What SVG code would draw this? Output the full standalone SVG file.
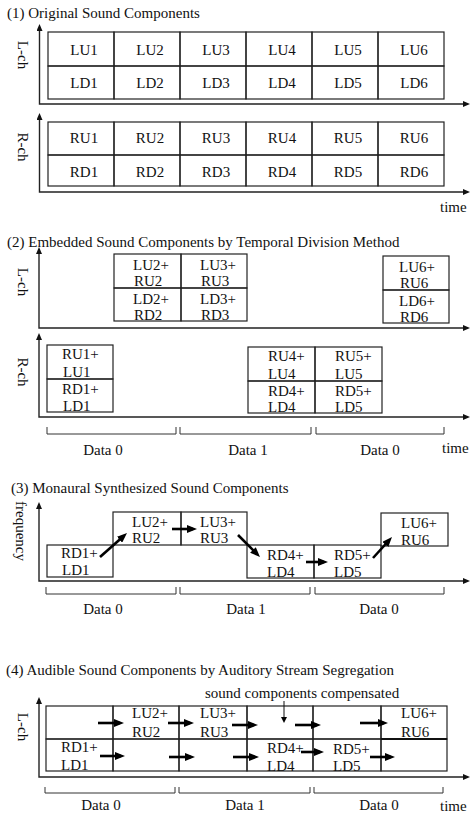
<svg xmlns="http://www.w3.org/2000/svg" width="474" height="813" viewBox="0 0 474 813">
<style>
.t{font-family:"Liberation Serif","Times New Roman",serif;font-size:15px;fill:#111}
.c{text-anchor:middle}
.box{fill:none;stroke:#222;stroke-width:1.2}
.ax{fill:none;stroke:#222;stroke-width:1.4}
.ar{fill:none;stroke:#000;stroke-width:2.6}
.thin{fill:none;stroke:#111;stroke-width:1}
.br{fill:none;stroke:#333;stroke-width:1}
</style>
<defs>
<marker id="axh" markerUnits="userSpaceOnUse" markerWidth="7" markerHeight="6" refX="4" refY="3" orient="auto-start-reverse"><path d="M0,0 L7,3 L0,6 z" fill="#111"/></marker>
<marker id="ah" markerUnits="userSpaceOnUse" markerWidth="10" markerHeight="8" refX="6" refY="4" orient="auto"><path d="M0,0 L10,4 L0,8 z" fill="#000"/></marker>
<marker id="sh" markerUnits="userSpaceOnUse" markerWidth="6" markerHeight="6" refX="3" refY="3" orient="auto"><path d="M0,0 L6,3 L0,6 z" fill="#000"/></marker>
</defs>

<!-- Section 1 -->
<text class="t" x="7" y="18">(1) Original Sound Components</text>
<text class="t c" transform="translate(18,55) rotate(90)">L-ch</text>
<text class="t c" transform="translate(18,147) rotate(90)">R-ch</text>
<text class="t" x="440" y="212">time</text>

<g id="s1-LU1"><rect class="box" x="48" y="32" width="66" height="34"/><text class="t c" x="84" y="55">LU1</text></g>
<g id="s1-LU2"><rect class="box" x="114" y="32" width="66" height="34"/><text class="t c" x="150" y="55">LU2</text></g>
<g id="s1-LU3"><rect class="box" x="180" y="32" width="66" height="34"/><text class="t c" x="216" y="55">LU3</text></g>
<g id="s1-LU4"><rect class="box" x="246" y="32" width="66" height="34"/><text class="t c" x="282" y="55">LU4</text></g>
<g id="s1-LU5"><rect class="box" x="312" y="32" width="66" height="34"/><text class="t c" x="348" y="55">LU5</text></g>
<g id="s1-LU6"><rect class="box" x="378" y="32" width="66" height="34"/><text class="t c" x="414" y="55">LU6</text></g>
<g id="s1-LD1"><rect class="box" x="48" y="66" width="66" height="33"/><text class="t c" x="84" y="88">LD1</text></g>
<g id="s1-LD2"><rect class="box" x="114" y="66" width="66" height="33"/><text class="t c" x="150" y="88">LD2</text></g>
<g id="s1-LD3"><rect class="box" x="180" y="66" width="66" height="33"/><text class="t c" x="216" y="88">LD3</text></g>
<g id="s1-LD4"><rect class="box" x="246" y="66" width="66" height="33"/><text class="t c" x="282" y="88">LD4</text></g>
<g id="s1-LD5"><rect class="box" x="312" y="66" width="66" height="33"/><text class="t c" x="348" y="88">LD5</text></g>
<g id="s1-LD6"><rect class="box" x="378" y="66" width="66" height="33"/><text class="t c" x="414" y="88">LD6</text></g>

<g id="s1-RU1"><rect class="box" x="48" y="122" width="66" height="33"/><text class="t c" x="84" y="143">RU1</text></g>
<g id="s1-RU2"><rect class="box" x="114" y="122" width="66" height="33"/><text class="t c" x="150" y="143">RU2</text></g>
<g id="s1-RU3"><rect class="box" x="180" y="122" width="66" height="33"/><text class="t c" x="216" y="143">RU3</text></g>
<g id="s1-RU4"><rect class="box" x="246" y="122" width="66" height="33"/><text class="t c" x="282" y="143">RU4</text></g>
<g id="s1-RU5"><rect class="box" x="312" y="122" width="66" height="33"/><text class="t c" x="348" y="143">RU5</text></g>
<g id="s1-RU6"><rect class="box" x="378" y="122" width="66" height="33"/><text class="t c" x="414" y="143">RU6</text></g>
<g id="s1-RD1"><rect class="box" x="48" y="155" width="66" height="31"/><text class="t c" x="84" y="177">RD1</text></g>
<g id="s1-RD2"><rect class="box" x="114" y="155" width="66" height="31"/><text class="t c" x="150" y="177">RD2</text></g>
<g id="s1-RD3"><rect class="box" x="180" y="155" width="66" height="31"/><text class="t c" x="216" y="177">RD3</text></g>
<g id="s1-RD4"><rect class="box" x="246" y="155" width="66" height="31"/><text class="t c" x="282" y="177">RD4</text></g>
<g id="s1-RD5"><rect class="box" x="312" y="155" width="66" height="31"/><text class="t c" x="348" y="177">RD5</text></g>
<g id="s1-RD6"><rect class="box" x="378" y="155" width="66" height="31"/><text class="t c" x="414" y="177">RD6</text></g>

<!-- Section 2 -->
<text class="t" x="7" y="247">(2) Embedded Sound Components by Temporal Division Method</text>
<text class="t c" transform="translate(18,282) rotate(90)">L-ch</text>
<text class="t c" transform="translate(18,372) rotate(90)">R-ch</text>
<text class="t" x="442" y="453">time</text>

<g id="s2-LU2"><rect class="box" x="114" y="254" width="67" height="34"/><text class="t" x="133" y="270">LU2+</text><text class="t" x="134" y="286">RU2</text></g>
<g id="s2-LU3"><rect class="box" x="181" y="254" width="66" height="34"/><text class="t" x="200" y="270">LU3+</text><text class="t" x="201" y="286">RU3</text></g>
<g id="s2-LD2"><rect class="box" x="114" y="288" width="67" height="33"/><text class="t" x="133" y="304">LD2+</text><text class="t" x="134" y="320">RD2</text></g>
<g id="s2-LD3"><rect class="box" x="181" y="288" width="66" height="33"/><text class="t" x="200" y="304">LD3+</text><text class="t" x="201" y="320">RD3</text></g>
<g id="s2-LU6"><rect class="box" x="383" y="256" width="66" height="34"/><text class="t" x="399" y="272">LU6+</text><text class="t" x="400" y="288">RU6</text></g>
<g id="s2-LD6"><rect class="box" x="383" y="290" width="66" height="33"/><text class="t" x="399" y="306">LD6+</text><text class="t" x="400" y="322">RD6</text></g>

<g id="s2-RU1"><rect class="box" x="47" y="345" width="66" height="34"/><text class="t" x="62" y="359">RU1+</text><text class="t" x="63" y="377">LU1</text></g>
<g id="s2-RD1"><rect class="box" x="47" y="379" width="66" height="33"/><text class="t" x="62" y="394">RD1+</text><text class="t" x="63" y="411">LD1</text></g>
<g id="s2-RU4"><rect class="box" x="248" y="347" width="67" height="34"/><text class="t" x="268" y="361">RU4+</text><text class="t" x="268" y="379">LU4</text></g>
<g id="s2-RD4"><rect class="box" x="248" y="381" width="67" height="32"/><text class="t" x="268" y="396">RD4+</text><text class="t" x="268" y="412">LD4</text></g>
<g id="s2-RU5"><rect class="box" x="315" y="347" width="67" height="34"/><text class="t" x="335" y="361">RU5+</text><text class="t" x="335" y="379">LU5</text></g>
<g id="s2-RD5"><rect class="box" x="315" y="381" width="67" height="32"/><text class="t" x="335" y="396">RD5+</text><text class="t" x="335" y="412">LD5</text></g>

<text class="t c" x="103" y="455">Data 0</text>
<text class="t c" x="248" y="455">Data 1</text>
<text class="t c" x="380" y="455">Data 0</text>

<!-- Section 3 -->
<text class="t" x="11" y="493">(3) Monaural Synthesized Sound Components</text>
<text class="t c" transform="translate(16,531) rotate(90)">frequency</text>

<g id="s3-RD1"><rect class="box" x="47" y="545" width="66" height="32"/><text class="t" x="61" y="558">RD1+</text><text class="t" x="62" y="575">LD1</text></g>
<g id="s3-LU2"><rect class="box" x="113" y="512" width="68" height="33"/><text class="t" x="132" y="527">LU2+</text><text class="t" x="132" y="543">RU2</text></g>
<g id="s3-LU3"><rect class="box" x="181" y="512" width="66" height="33"/><text class="t" x="200" y="527">LU3+</text><text class="t" x="200" y="543">RU3</text></g>
<g id="s3-RD4"><rect class="box" x="247" y="545" width="67" height="33"/><text class="t" x="267" y="560">RD4+</text><text class="t" x="267" y="577">LD4</text></g>
<g id="s3-RD5"><rect class="box" x="314" y="545" width="67" height="33"/><text class="t" x="334" y="560">RD5+</text><text class="t" x="334" y="577">LD5</text></g>
<g id="s3-LU6"><rect class="box" x="381" y="513" width="67" height="33"/><text class="t" x="401" y="528">LU6+</text><text class="t" x="401" y="545">RU6</text></g>

<text class="t c" x="103" y="614">Data 0</text>
<text class="t c" x="246" y="614">Data 1</text>
<text class="t c" x="379" y="614">Data 0</text>

<!-- Section 4 -->
<text class="t" x="6" y="675">(4) Audible Sound Components by Auditory Stream Segregation</text>
<text class="t" x="205" y="698">sound components compensated</text>
<text class="t c" transform="translate(18,727) rotate(90)">L-ch</text>
<text class="t" x="440" y="811">time</text>

<g id="s4-U1"><rect class="box" x="46" y="706" width="67" height="33"/></g>
<g id="s4-U2"><rect class="box" x="113" y="706" width="66" height="33"/><text class="t" x="132" y="718">LU2+</text><text class="t" x="132" y="737">RU2</text></g>
<g id="s4-U3"><rect class="box" x="179" y="706" width="68" height="33"/><text class="t" x="200" y="718">LU3+</text><text class="t" x="200" y="737">RU3</text></g>
<g id="s4-U4"><rect class="box" x="247" y="706" width="66" height="33"/></g>
<g id="s4-U5"><rect class="box" x="313" y="706" width="68" height="33"/></g>
<g id="s4-U6"><rect class="box" x="381" y="706" width="66" height="33"/><text class="t" x="401" y="718">LU6+</text><text class="t" x="401" y="737">RU6</text></g>
<g id="s4-D1"><rect class="box" x="46" y="739" width="67" height="32"/><text class="t" x="61" y="752">RD1+</text><text class="t" x="61" y="770">LD1</text></g>
<g id="s4-D2"><rect class="box" x="113" y="739" width="66" height="32"/></g>
<g id="s4-D3"><rect class="box" x="179" y="739" width="68" height="32"/></g>
<g id="s4-D4"><rect class="box" x="247" y="739" width="66" height="32"/><text class="t" x="267" y="753">RD4+</text><text class="t" x="267" y="771">LD4</text></g>
<g id="s4-D5"><rect class="box" x="313" y="739" width="68" height="32"/><text class="t" x="333" y="754">RD5+</text><text class="t" x="333" y="771">LD5</text></g>
<g id="s4-D6"><rect class="box" x="381" y="739" width="66" height="32"/></g>
<line x1="381" y1="739" x2="447" y2="739" stroke="#111" stroke-width="2.2"/>

<text class="t c" x="101" y="810">Data 0</text>
<text class="t c" x="245" y="810">Data 1</text>
<text class="t c" x="379" y="810">Data 0</text>

<!-- Connectors -->
<g id="connectors">
<!-- axes -->
<path class="ax" d="M39.5,27 V104 H467" marker-start="url(#axh)" marker-end="url(#axh)"/>
<path class="ax" d="M39.5,116 V192 H467" marker-start="url(#axh)" marker-end="url(#axh)"/>
<path class="ax" d="M39,250 V328 H467" marker-start="url(#axh)" marker-end="url(#axh)"/>
<path class="ax" d="M39,336 V417 H467" marker-start="url(#axh)" marker-end="url(#axh)"/>
<path class="ax" d="M39,505 V581 H467" marker-start="url(#axh)" marker-end="url(#axh)"/>
<path class="ax" d="M39,700 V777 H467" marker-start="url(#axh)" marker-end="url(#axh)"/>
<!-- brackets -->
<path class="br" d="M47,427 V434 H176 V427 M180,427 V434 H311 V427 M316,427 V434 H444 V427"/>
<path class="br" d="M46,587 V594 H176 V587 M180,587 V594 H310 V587 M315,587 V594 H444 V587"/>
<path class="br" d="M45,787 V793 H175 V787 M179,787 V793 H310 V787 M314,787 V793 H443 V787"/>
<!-- section 3 arrows -->
<line class="ar" x1="100" y1="557" x2="124" y2="535.7" marker-end="url(#ah)"/>
<line class="ar" x1="172" y1="529" x2="193" y2="529" marker-end="url(#ah)"/>
<line class="ar" x1="238" y1="535" x2="257.2" y2="554.2" marker-end="url(#ah)"/>
<line class="ar" x1="306" y1="562" x2="324" y2="562" marker-end="url(#ah)"/>
<line class="ar" x1="373" y1="558" x2="389.3" y2="540" marker-end="url(#ah)"/>
<!-- section 4 arrows -->
<line class="ar" x1="98" y1="723" x2="120" y2="723" marker-end="url(#ah)"/>
<line class="ar" x1="168" y1="723" x2="190" y2="723" marker-end="url(#ah)"/>
<line class="ar" x1="232" y1="725" x2="254" y2="725" marker-end="url(#ah)"/>
<line class="ar" x1="295" y1="725" x2="317" y2="725" marker-end="url(#ah)"/>
<line class="ar" x1="360" y1="723" x2="384" y2="723" marker-end="url(#ah)"/>
<line class="ar" x1="100" y1="756" x2="121" y2="756" marker-end="url(#ah)"/>
<line class="ar" x1="169" y1="757" x2="191" y2="757" marker-end="url(#ah)"/>
<line class="ar" x1="233" y1="757" x2="255" y2="757" marker-end="url(#ah)"/>
<line class="ar" x1="301" y1="752" x2="320" y2="752" marker-end="url(#ah)"/>
<line class="ar" x1="370" y1="757" x2="391" y2="757" marker-end="url(#ah)"/>
<line class="thin" x1="284" y1="701" x2="284" y2="720" marker-end="url(#sh)"/>
</g>
</svg>
